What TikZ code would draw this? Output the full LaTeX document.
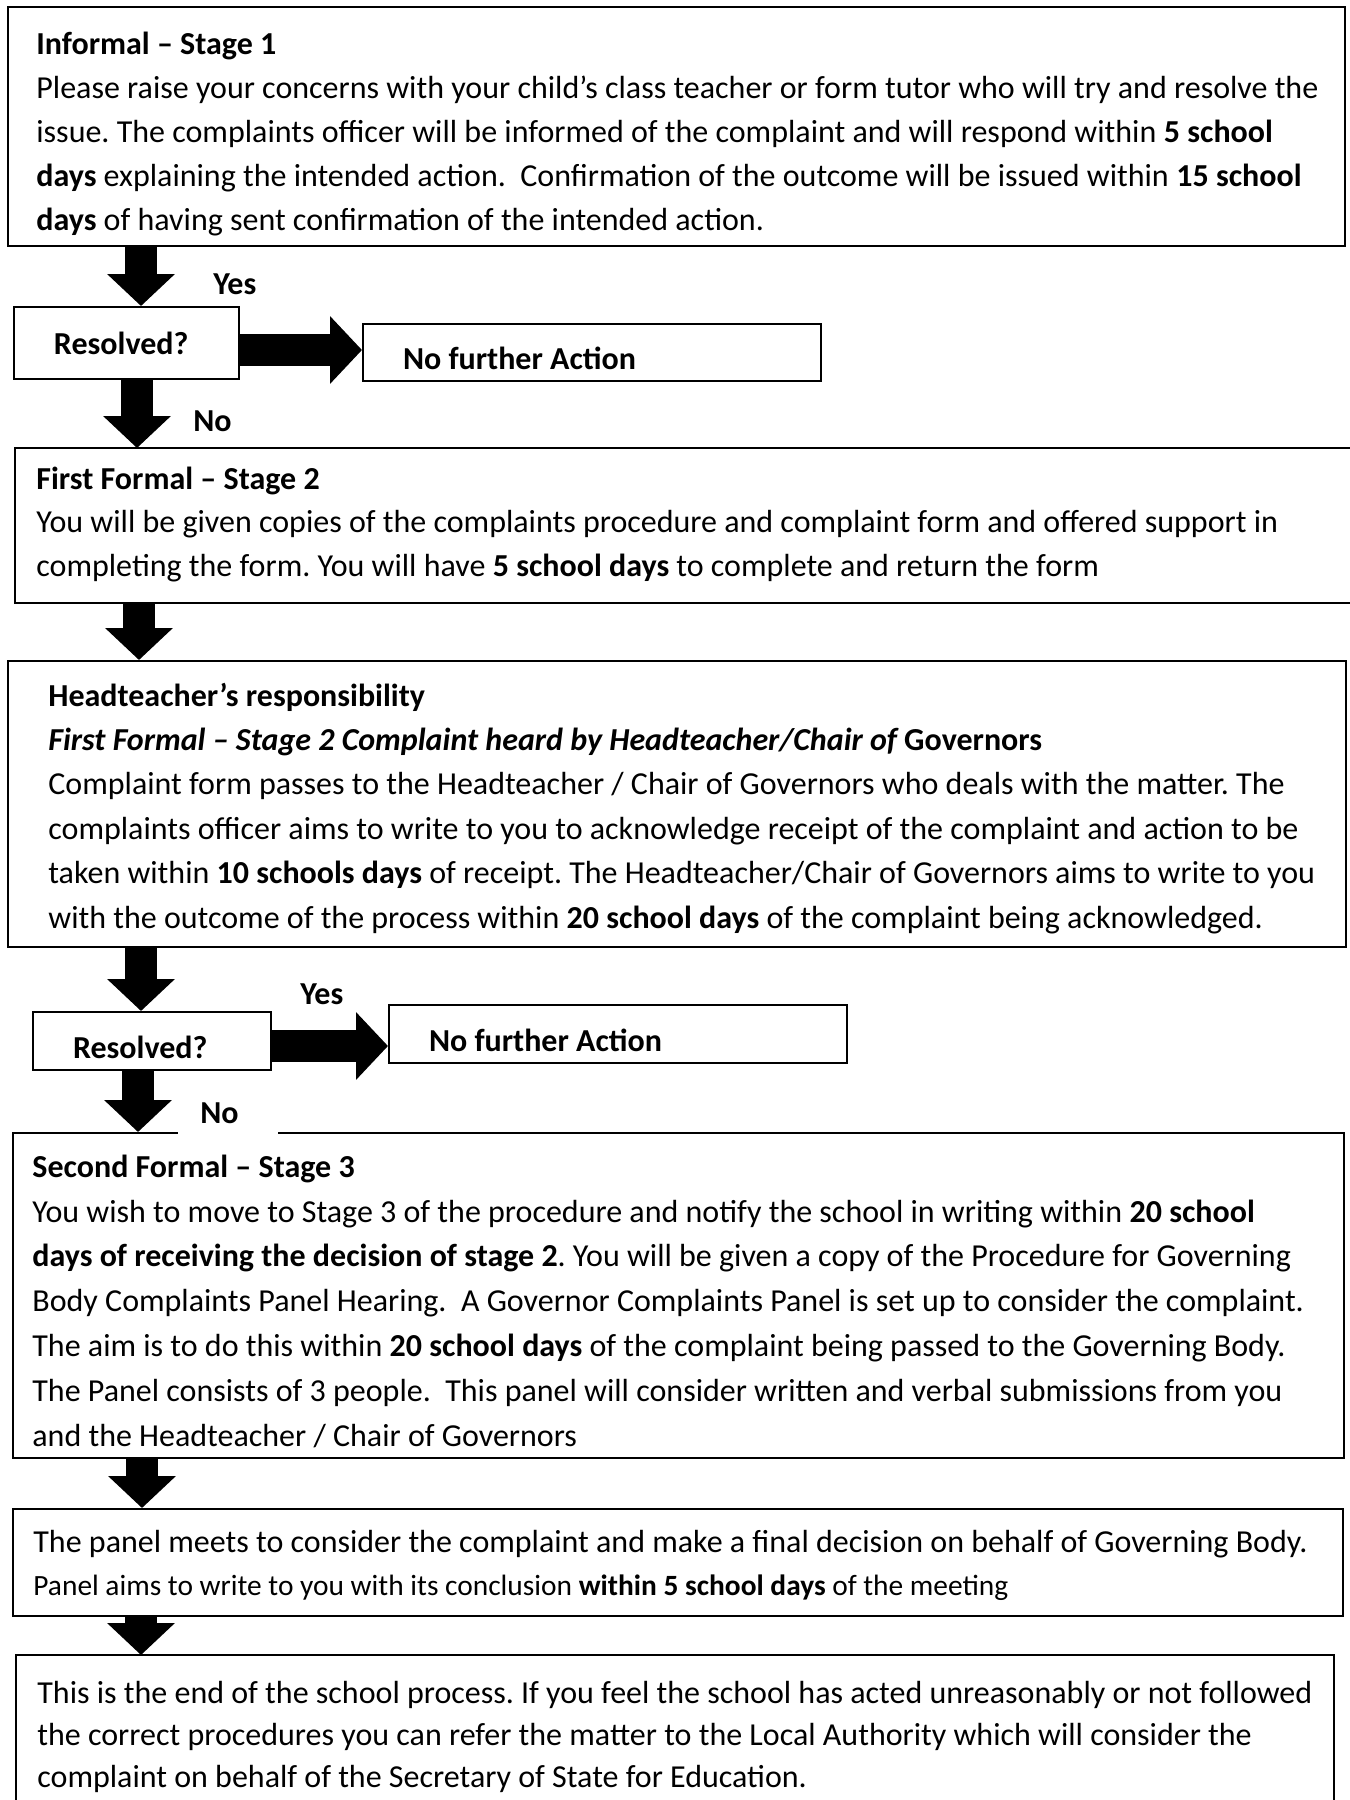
\documentclass[tikz,border=0pt]{standalone}
\usepackage{fontspec}
\setmainfont{Carlito}
\usetikzlibrary{arrows.meta}
\frenchspacing

\tikzset{
  panel/.style={inner sep=0pt, anchor=north west},
  frame/.style={panel, draw, line width=1pt},
  choice/.style={frame, inner xsep=20pt, align=flush left, font=\fontsize{16}{20}\selectfont\bfseries},
  low/.style={text height=17pt, text depth=0pt},
  body/.style={inner sep=0pt, anchor=base west, align=left, font=\fontsize{16}{#1}\selectfont},
  body/.default=22,
  tag/.style={inner sep=0pt, anchor=base west, font=\fontsize{16}{20}\selectfont\bfseries},
  fat/.style={line width=16pt, -{Triangle[width=33pt,length=16pt]}},
}

\begin{document}
\begin{tikzpicture}[x=0.5pt, y=-0.5pt]
\useasboundingbox (0,0) rectangle (1350,1800);

\node[frame, minimum width=668.5pt, minimum height=119.5pt] (b1) at (7,6) {};
\node[body=22] (t1) at (36,230) {{\bfseries Informal – Stage 1}\\
Please raise your concerns with your child’s class teacher or form tutor who will try and resolve the\\
issue. The complaints officer will be informed of the complaint and will respond within \textbf{5 school}\\
\textbf{days} explaining the intended action.~ Confirmation of the outcome will be issued within \textbf{15 school}\\
\textbf{days} of having sent confirmation of the intended action.};

\node[choice, text width=72.5pt, minimum height=36pt] (res1) at (13,306) {Resolved?};
\node[choice, low, text width=189pt, minimum height=28.5pt] (nfa1) at (362,323) {No further Action};

\node[panel, minimum width=667.5pt, minimum height=77pt] (b2) at (15,448) {};
\draw[line width=1pt] (b2.north east) -- (b2.north west) -- (b2.south west) -- (b2.south east);
\node[body=21.75] (t2) at (36,576) {{\bfseries First Formal – Stage 2}\\
You will be given copies of the complaints procedure and complaint form and offered support in\\
completing the form. You will have \textbf{5 school days} to complete and return the form};

\node[frame, line width=0.8pt, minimum width=669pt, minimum height=143pt] (b3) at (7,660) {};
\node[body=22.2] (t3) at (48,928) {{\bfseries Headteacher’s responsibility}\\
{\bfseries\itshape First Formal – Stage 2 Complaint heard by Headteacher/Chair of} {\bfseries Governors}\\
Complaint form passes to the Headteacher / Chair of Governors who deals with the matter. The\\
complaints officer aims to write to you to acknowledge receipt of the complaint and action to be\\
taken within \textbf{10 schools days} of receipt. The Headteacher/Chair of Governors aims to write to you\\
with the outcome of the process within \textbf{20 school days} of the complaint being acknowledged.};

\node[choice, low, text width=79pt, minimum height=29pt] (res2) at (32,1011) {Resolved?};
\node[choice, low, text width=189pt, minimum height=29pt] (nfa2) at (388,1004) {No further Action};

\node[frame, line width=0.8pt, minimum width=665.5pt, minimum height=162.5pt] (b4) at (12,1132) {};
\node[body=22.4] (t4) at (32,1446) {{\bfseries Second Formal – Stage 3}\\
You wish to move to Stage 3 of the procedure and notify the school in writing within \textbf{20 school}\\
\textbf{days of receiving the decision of stage 2}. You will be given a copy of the Procedure for Governing\\
Body Complaints Panel Hearing.~ A Governor Complaints Panel is set up to consider the complaint.\\
The aim is to do this within \textbf{20 school days} of the complaint being passed to the Governing Body.\\
The Panel consists of 3 people.~ This panel will consider written and verbal submissions from you\\
and the Headteacher / Chair of Governors};

\node[frame, minimum width=665pt, minimum height=53.5pt] (b5) at (12,1508) {};
\node[body=22] (t5) at (33,1552) {The panel meets to consider the complaint and make a final decision on behalf of Governing Body.};
\node[body=22, font=\fontsize{14.7}{20}\selectfont] (t5b) at (33,1595) {Panel aims to write to you with its conclusion \textbf{within 5 school days} of the meeting};

\node[panel, minimum width=658.5pt, minimum height=72.5pt] (b6) at (16,1655) {};
\draw[line width=1pt] (b6.south west) -- (b6.north west) -- (b6.north east) -- (b6.south east);
\node[body=21] (t6) at (37,1787) {This is the end of the school process. If you feel the school has acted unreasonably or not followed\\
the correct procedures you can refer the matter to the Local Authority which will consider the\\
complaint on behalf of the Secretary of State for Education.};

\draw[fat] ([xshift=67pt]b1.south west) -- ([xshift=64pt]res1.north west);
\draw[fat] ([yshift=-3.5pt]res1.east) -- ([yshift=1.25pt]nfa1.west);
\draw[fat] ([xshift=62pt]res1.south west) -- ([xshift=61pt]b2.north west);
\draw[fat] ([xshift=62pt]b2.south west) -- ([xshift=66pt]b3.north west);
\draw[fat] ([xshift=67pt]b3.south west) -- ([xshift=54.5pt]res2.north west);
\draw[fat] ([yshift=-2.5pt]res2.east) -- ([yshift=-6pt]nfa2.west);
\draw[fat] ([xshift=53pt]res2.south west) -- ([xshift=63pt]b4.north west);
\draw[fat] ([xshift=65pt]b4.south west) -- ([xshift=65pt]b5.north west);
\draw[fat] ([xshift=64.5pt]b5.south west) -- ([xshift=62.5pt]b6.north west);

\node[tag] (yes1) at (213,294) {Yes};
\node[tag] (no1) at (193,431) {No};
\node[tag] (yes2) at (300,1004) {Yes};
\fill[white] (178,1124) rectangle (278,1136);
\node[tag] (no2) at (200,1123) {No};
\end{tikzpicture}
\end{document}
